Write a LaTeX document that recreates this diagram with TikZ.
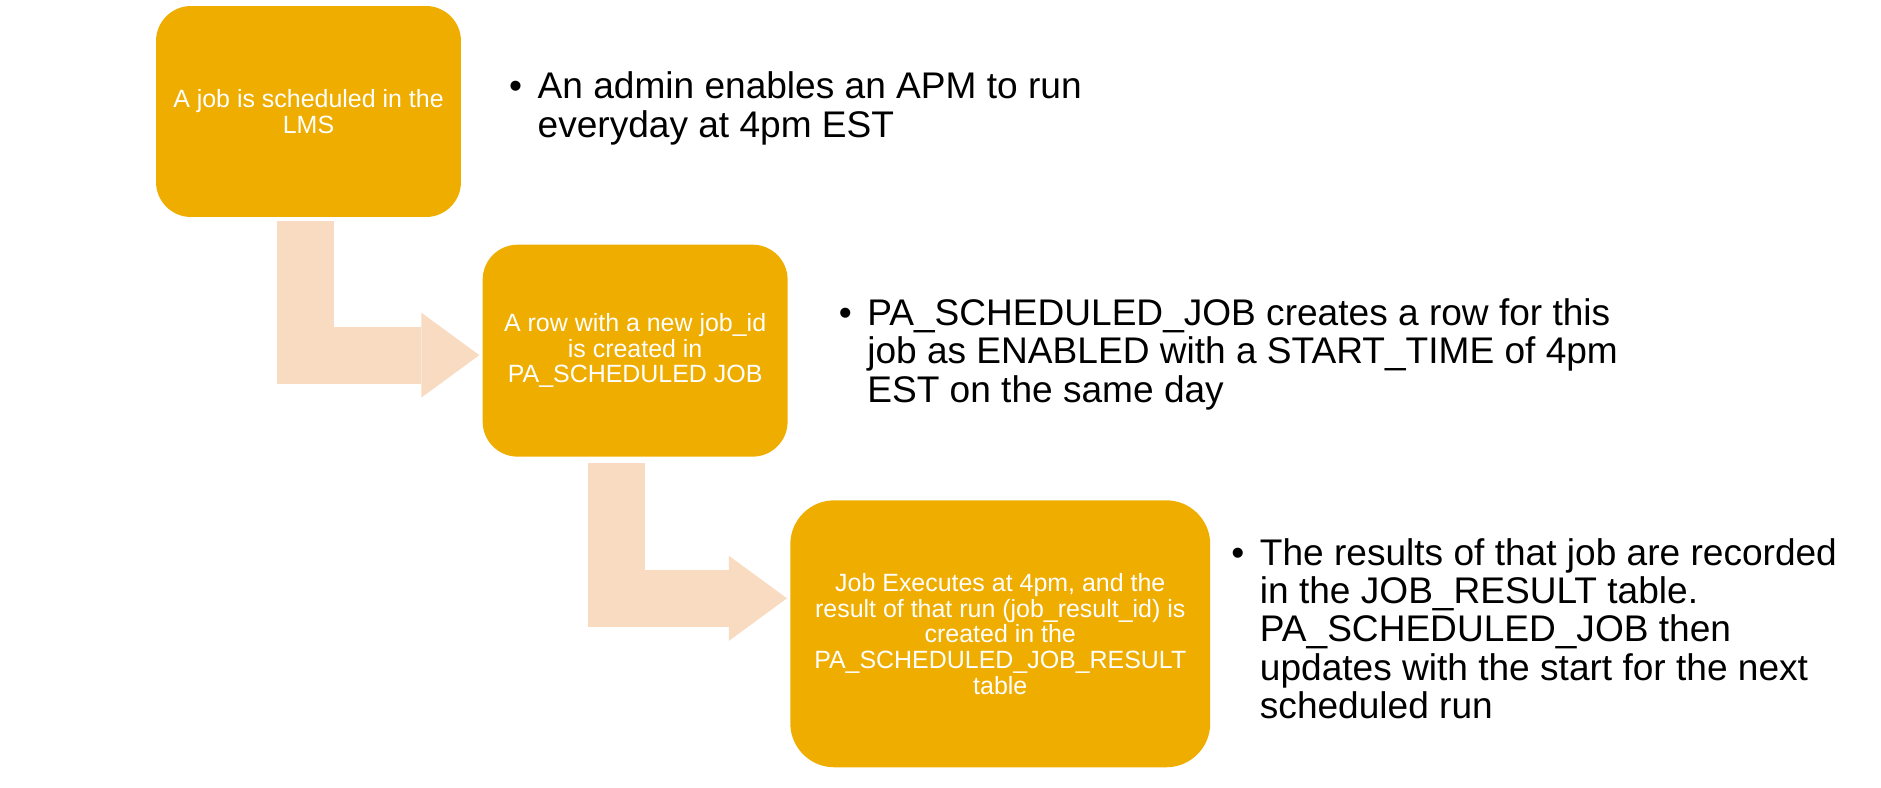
\documentclass[tikz,border=0pt]{standalone}
\usepackage{fontspec}
\setmainfont{Liberation Sans}
\usetikzlibrary{arrows.meta,positioning,calc}

\definecolor{jobgold}{RGB}{239,173,0}
\definecolor{jobpeach}{RGB}{248,219,192}

\begin{document}
\begin{tikzpicture}[
    x=0.02cm, y=-0.02cm,
    stage/.style={rectangle, fill=jobgold, text=white, align=center, inner sep=2pt,
        font=\fontsize{14.2}{14.6}\selectfont},
    note/.style={anchor=base west, align=left, inner sep=0pt,
        font=\fontsize{21.1}{21.85}\selectfont},
    bentarrow/.style={draw=jobpeach, line width=1.14cm, line join=miter,
        -{Triangle[length=1.16cm, width=1.7cm, line width=0pt]}}
]
    \useasboundingbox (0,0) rectangle (1881,788);

    \node[stage, minimum width=6.1cm, minimum height=4.22cm, rounded corners=0.7cm] (sched) at (308.5,111.5) {A job is scheduled in the\\LMS};
    \node[stage, minimum width=6.1cm, minimum height=4.24cm, rounded corners=0.7cm, below right=0.54cm and 0.42cm of sched] (newrow) {A row with a new job\_id\\is created in\\PA\_SCHEDULED JOB};
    \node[stage, minimum width=8.4cm, minimum height=5.34cm, rounded corners=0.88cm, below right=0.86cm and 0.04cm of newrow] (exec) {Job Executes at 4pm, and the\\result of that run (job\_result\_id) is\\created in the\\PA\_SCHEDULED\_JOB\_RESULT\\table};

    % bullet notes beside each stage (base = last line)
    \node[note] (admin) at ($(sched.north east)+(76,131.4)$) {\llap{\textbullet\hspace{0.31cm}}An admin enables an APM to run\\everyday at 4pm EST};
    \node[note] (rownote) at ($(newrow.north east)+(79,157.8)$) {\llap{\textbullet\hspace{0.31cm}}PA\_SCHEDULED\_JOB creates a row for this\\job as ENABLED with a START\_TIME of 4pm\\EST on the same day};
    \node[note] (result) at ($(exec.north east)+(49,218.6)$) {\llap{\textbullet\hspace{0.31cm}}The results of that job are recorded\\in the JOB\_RESULT table.\\PA\_SCHEDULED\_JOB then\\updates with the start for the next\\scheduled run};

    \draw[bentarrow] ($(sched.south)+(-3,4)$) |- ($(newrow.west)+(-3,4.5)$);
    \draw[bentarrow] ($(newrow.south)+(-18.5,6)$) |- ($(exec.west)+(-3,-35.5)$);
\end{tikzpicture}
\end{document}
